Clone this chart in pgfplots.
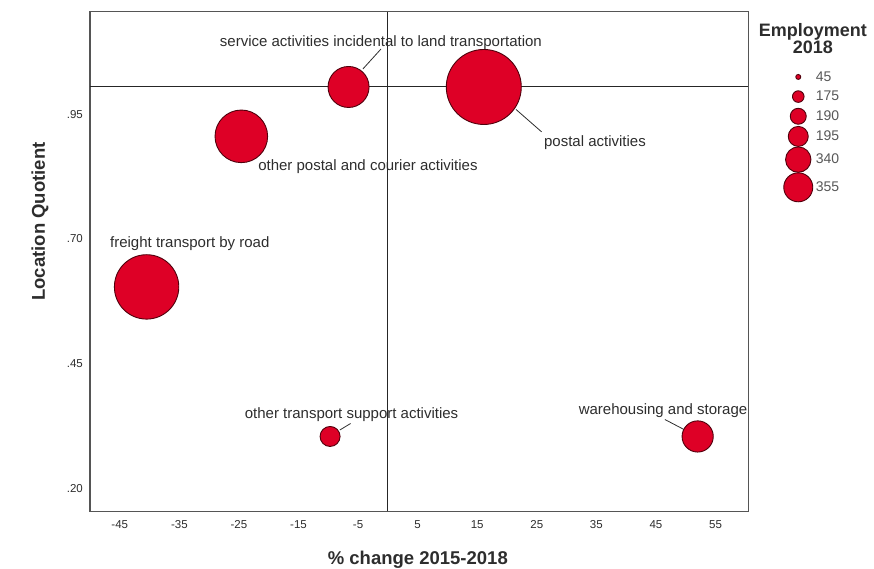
\documentclass[border=0pt]{standalone}
\usepackage{fontspec}
\setmainfont{Liberation Sans}
\usepackage{pgfplots}
\pgfplotsset{compat=1.18}
\definecolor{bubblered}{RGB}{222,0,38}
\definecolor{bubbleedge}{RGB}{80,0,12}
\definecolor{framegray}{RGB}{85,85,85}
\definecolor{txt}{RGB}{45,45,45}
\tikzset{legtext/.style={inner ysep=4pt, inner xsep=3pt}}
\begin{document}
\begin{tikzpicture}
\begin{axis}[
  scale only axis, width=658.3pt, height=499.8pt,
  xmin=-50, xmax=60.5, ymin=0.1535, ymax=1.156,
  axis line style={framegray, line width=1.2pt},
  tick style={draw=none}, major tick length=0pt,
  xtick={-45,-35,...,55},
  xticklabels={-45,-35,-25,-15,-5,5,15,25,35,45,55},
  ytick={0.20,0.45,0.70,0.95},
  yticklabels={.20,.45,.70,.95},
  ticklabel style={font=\fontsize{11.5}{12}\selectfont, text=txt},
  xticklabel style={anchor=center, yshift=-13.5pt},
  yticklabel style={anchor=east, inner sep=0pt, xshift=-7pt},
  xlabel={\% change 2015-2018},
  ylabel={Location Quotient},
  label style={font=\fontsize{18.5}{20}\selectfont\bfseries, text=txt},
  xlabel style={at={(axis description cs:0.498,-0.097)}, anchor=center},
  ylabel style={at={(axis description cs:-0.076,0.58)}, anchor=center},
  clip=false,
  legend style={draw=none, fill=none, at={(axis description cs:1.049,0.893)}, anchor=north west,
    font=\fontsize{14}{15}\selectfont, text=txt!80, row sep=0.5pt, nodes={inner sep=1pt}},
  legend cell align=left,
  bubble/.style={only marks, mark=*, mark options={fill=bubblered, draw=bubbleedge, line width=0.9pt}},
]
% bubbles: x = % change 2015-2018, y = location quotient, marker radius (pt)
\addplot[bubble, mark size=37.5pt, forget plot] coordinates {(16.1,1.005)};  % postal activities
\addplot[bubble, mark size=20.5pt, forget plot] coordinates {(-6.6,1.005)};  % service activities incidental to land transportation
\addplot[bubble, mark size=26.3pt, forget plot] coordinates {(-24.6,0.906)}; % other postal and courier activities
\addplot[bubble, mark size=32.2pt, forget plot] coordinates {(-40.5,0.604)}; % freight transport by road
\addplot[bubble, mark size=10pt, forget plot] coordinates {(-9.7,0.304)};    % other transport support activities
\addplot[bubble, mark size=15.6pt, forget plot] coordinates {(52.0,0.304)};  % warehousing and storage
% reference lines
\addplot[black!85, line width=1pt, forget plot] coordinates {(0,0.1535) (0,1.156)};
\addplot[black!85, line width=1pt, forget plot] coordinates {(-50,1.005) (60.5,1.005)};
% leader lines
\addplot[txt, line width=0.8pt, forget plot] coordinates {(-4.2,1.041) (-1.17,1.081)};
\addplot[txt, line width=0.8pt, forget plot] coordinates {(21.5,0.960) (25.8,0.915)};
\addplot[txt, line width=0.8pt, forget plot] coordinates {(-8.06,0.317) (-6.26,0.330)};
\addplot[txt, line width=0.8pt, forget plot] coordinates {(46.5,0.338) (49.7,0.318)};
% labels
\begin{scope}[every node/.style={font=\fontsize{15}{16}\selectfont, text=txt, inner sep=0pt}]
\node at (axis cs:-1.17,1.094) {service activities incidental to land transportation};
\node at (axis cs:34.76,0.893) {postal activities};
\node at (axis cs:-3.35,0.845) {other postal and courier activities};
\node at (axis cs:-33.25,0.690) {freight transport by road};
\node at (axis cs:-6.1,0.347) {other transport support activities};
\node at (axis cs:46.18,0.3557) {warehousing and storage};
\end{scope}
% legend: Employment 2018
\addlegendimage{bubble, mark size=2.5pt} \addlegendentry[legtext]{45}
\addlegendimage{bubble, mark size=5.8pt} \addlegendentry[legtext]{175}
\addlegendimage{bubble, mark size=8pt} \addlegendentry[legtext]{190}
\addlegendimage{bubble, mark size=10pt} \addlegendentry[legtext]{195}
\addlegendimage{bubble, mark size=12.7pt} \addlegendentry[legtext]{340}
\addlegendimage{bubble, mark size=14.5pt} \addlegendentry[legtext]{355}
\node[font=\fontsize{18}{17}\selectfont\bfseries, text=txt, align=center] at (axis description cs:1.098,0.946) {Employment\\2018};
\end{axis}
\pgfresetboundingbox
\useasboundingbox ([shift={(-90pt,-57.5pt)}]current axis.south west) rectangle ++(874pt,569pt);
\end{tikzpicture}
\end{document}
